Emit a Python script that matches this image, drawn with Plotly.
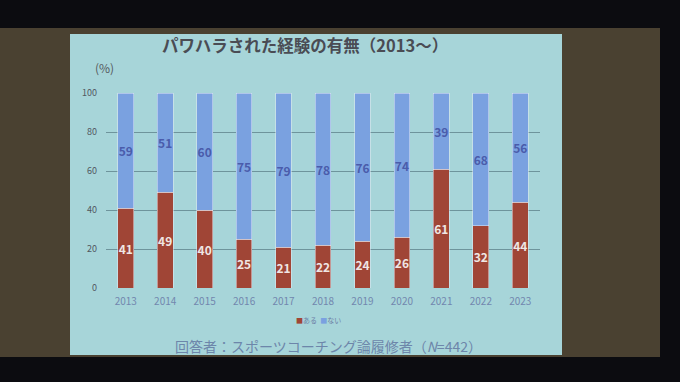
import plotly.graph_objects as go

years = ["2013", "2014", "2015", "2016", "2017", "2018", "2019", "2020", "2021", "2022", "2023"]
aru = [41, 49, 40, 25, 21, 22, 24, 26, 61, 32, 44]
nai = [59, 51, 60, 75, 79, 78, 76, 74, 39, 68, 56]
y_ticks = [0, 20, 40, 60, 80, 100]

COL_ARU = "#a04536"
COL_NAI = "#7aa1e0"

W, H = 680, 382
L, R, T, B = 106, 540, 93, 288  # plot area in pixels


def px(x):
    return (x - L) / (R - L)


def py(y):
    return (B - y) / (B - T)


JP = "Noto Sans CJK JP, Noto Sans, sans-serif"

fig = go.Figure()
fig.add_trace(go.Bar(
    x=years, y=aru, name="ある", marker_color=COL_ARU,
    text=aru, textposition="inside", insidetextanchor="middle",
    textfont=dict(family=JP, size=12, color="#efe6e4", weight="bold"),
))
fig.add_trace(go.Bar(
    x=years, y=nai, name="ない", marker_color=COL_NAI,
    text=nai, textposition="inside", insidetextanchor="middle",
    textfont=dict(family=JP, size=12, color="#4a5cab", weight="bold"),
))

shapes = [
    dict(type="rect", xref="paper", yref="paper", x0=px(0), x1=px(660), y0=py(357), y1=py(28),
         fillcolor="#4a4131", line_width=0, layer="below"),
    dict(type="rect", xref="paper", yref="paper", x0=px(70), x1=px(562), y0=py(355), y1=py(34),
         fillcolor="#a7d5d9", line_width=0, layer="below"),
]

annotations = [
    dict(text="<b>パワハラされた経験の有無（2013～）</b>", x=px(305), y=py(45),
         font=dict(family=JP, size=16.5, color="#4a4c54")),
    dict(text="(%)", x=px(104), y=py(67),
         font=dict(family=JP, size=12, color="#555a60")),
    dict(text="回答者：スポーツコーチング論履修者（<i>N</i>=442）", x=px(328), y=py(346),
         font=dict(family=JP, size=14, color="#6d86aa")),
    dict(text=f"<span style='color:{COL_ARU}'>■</span>ある  <span style='color:{COL_NAI}'>■</span>ない",
         x=px(318), y=py(320),
         font=dict(family=JP, size=7, color="#6d7fa6")),
]
for a in annotations:
    a.update(xref="paper", yref="paper", showarrow=False, xanchor="center", yanchor="middle")

fig.update_layout(
    width=W, height=H,
    margin=dict(l=L, r=W - R, t=T, b=H - B, pad=0),
    paper_bgcolor="#0c0c10", plot_bgcolor="rgba(0,0,0,0)",
    barmode="stack", bargap=0.6,
    uniformtext=dict(mode="show", minsize=12),
    shapes=shapes, annotations=annotations,
    showlegend=False,
    xaxis=dict(tickfont=dict(family=JP, size=10, color="#7287ae"), showgrid=False,
               showline=False, ticks="", ticklen=0, ticklabelstandoff=6),
    yaxis=dict(range=[0, 100], tickvals=y_ticks, tickfont=dict(family=JP, size=9, color="#51585f"),
               gridcolor="#6e949c", gridwidth=1, zeroline=False, showline=False, ticks="",
               ticklabelstandoff=8),
    font=dict(family=JP),
)

fig.write_html(
    "out.html",
    config={"displayModeBar": False},
    post_script="document.body.style.margin='0';document.body.style.background='#0c0c10';"
                "document.documentElement.style.background='#0c0c10';",
)
